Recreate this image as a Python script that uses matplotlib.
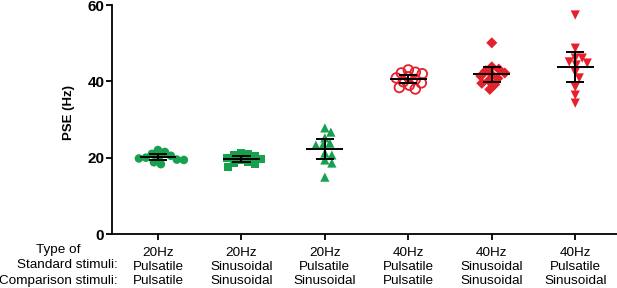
import numpy as np
import matplotlib
matplotlib.use('Agg')
import matplotlib.pyplot as plt

plt.rcParams['font.family'] = ['Liberation Sans', 'DejaVu Sans']

# PSE values (Hz) per condition
pp20 = [22.0, 21.5, 21.0, 20.5, 20.2, 20.0, 19.8, 19.5, 19.4, 18.8, 18.3]
ss20 = [21.2, 21.0, 20.8, 20.5, 20.0, 19.6, 19.3, 19.0, 18.7, 18.4, 17.6]
ps20 = [27.8, 26.7, 25.2, 23.8, 23.3, 23.3, 21.2, 20.7, 19.4, 18.6, 14.9]
pp40 = [43.0, 42.4, 42.2, 42.0, 41.2, 40.9, 40.5, 39.9, 39.6, 39.0, 38.4, 38.0]
ss40 = [50.1, 43.8, 43.2, 42.8, 42.2, 41.8, 41.4, 40.8, 40.2, 39.5, 39.2, 37.9]
ps40 = [57.4, 48.7, 46.1, 46.1, 45.1, 44.8, 44.3, 42.4, 40.9, 38.5, 36.4, 34.3]

groups = [pp20, ss20, ps20, pp40, ss40, ps40]
freq = ['20Hz', '20Hz', '20Hz', '40Hz', '40Hz', '40Hz']
standard = ['Pulsatile', 'Sinusoidal', 'Pulsatile', 'Pulsatile', 'Sinusoidal', 'Pulsatile']
comparison = ['Pulsatile', 'Sinusoidal', 'Sinusoidal', 'Pulsatile', 'Sinusoidal', 'Sinusoidal']

green = '#17a04e'
red = '#e5202b'
styles = [
    dict(marker='o', color=green, filled=True, s=38),
    dict(marker='s', color=green, filled=True, s=34),
    dict(marker='^', color=green, filled=True, s=44),
    dict(marker='o', color=red, filled=False, s=48),
    dict(marker='D', color=red, filled=True, s=32),
    dict(marker='v', color=red, filled=True, s=44),
]

# t critical values for 95% CI
t95 = {11: 2.228, 12: 2.201}

fig = plt.figure(figsize=(6.17, 2.88), dpi=100)
ax = fig.add_axes([0.1815, 0.1875, 0.8185, 0.795])
ax.set_xlim(-0.55, 5.5)
ax.set_ylim(0, 60)

# pixel scale used for the swarm layout
px_x = 83.6
px_y = 3.817
diam = 6.8


def swarm(vals):
    order = np.argsort(vals)[::-1]
    placed = []
    offs = np.zeros(len(vals))
    for i in order:
        y = vals[i] * px_y
        ok = 0.0
        for k in range(60):
            cands = [0.0] if k == 0 else [k * 1.0, -k * 1.0]
            hit = None
            for c in cands:
                if all((c - px) ** 2 + (y - py) ** 2 >= diam ** 2 for px, py in placed):
                    hit = c
                    break
            if hit is not None:
                ok = hit
                break
        placed.append((ok, y))
        offs[i] = ok / px_x
    return offs


for i, (vals, st) in enumerate(zip(groups, styles)):
    vals = np.array(vals)
    xs = i + swarm(vals)
    if st['filled']:
        ax.scatter(xs, vals, marker=st['marker'], s=st['s'], color=st['color'],
                   edgecolors='none', zorder=2)
    else:
        ax.scatter(xs, vals, marker=st['marker'], s=st['s'], facecolors='none',
                   edgecolors=st['color'], linewidths=1.3, zorder=2)
    m = vals.mean()
    ci = t95[len(vals)] * vals.std(ddof=1) / np.sqrt(len(vals))
    ax.hlines(m, i - 0.22, i + 0.22, color='black', lw=1.4, zorder=3)
    ax.hlines([m - ci, m + ci], i - 0.11, i + 0.11, color='black', lw=1.4, zorder=3)
    ax.vlines(i, m - ci, m + ci, color='black', lw=1.4, zorder=3)

ax.set_yticks([0, 20, 40, 60])
ax.set_yticklabels(['0', '20', '40', '60'], fontweight='bold', fontsize=11)
ax.set_ylabel('PSE (Hz)', fontweight='bold', fontsize=9.5)
ax.yaxis.set_label_coords(-0.073, 0.53)

labels = [f'{a}\n{b}\n{c}' for a, b, c in zip(freq, standard, comparison)]
ax.set_xticks(range(6))
ax.set_xticklabels(labels, fontsize=9.7, linespacing=1.25, va='top')
ax.tick_params(axis='x', length=4, width=1.3, pad=5)
ax.tick_params(axis='y', length=4, width=1.3, pad=1.5)

for side in ['top', 'right']:
    ax.spines[side].set_visible(False)
for side in ['left', 'bottom']:
    ax.spines[side].set_linewidth(1.3)

# row captions for the x labels
fig.text(58 / 617, 1 - 250 / 288, 'Type of', ha='center', va='center', fontsize=9.7)
fig.text(118 / 617, 1 - 265.5 / 288, 'Standard stimuli:', ha='right', va='center', fontsize=9.7)
fig.text(118 / 617, 1 - 281 / 288, 'Comparison stimuli:', ha='right', va='center', fontsize=9.7)

fig.savefig('out.png', dpi=100)
